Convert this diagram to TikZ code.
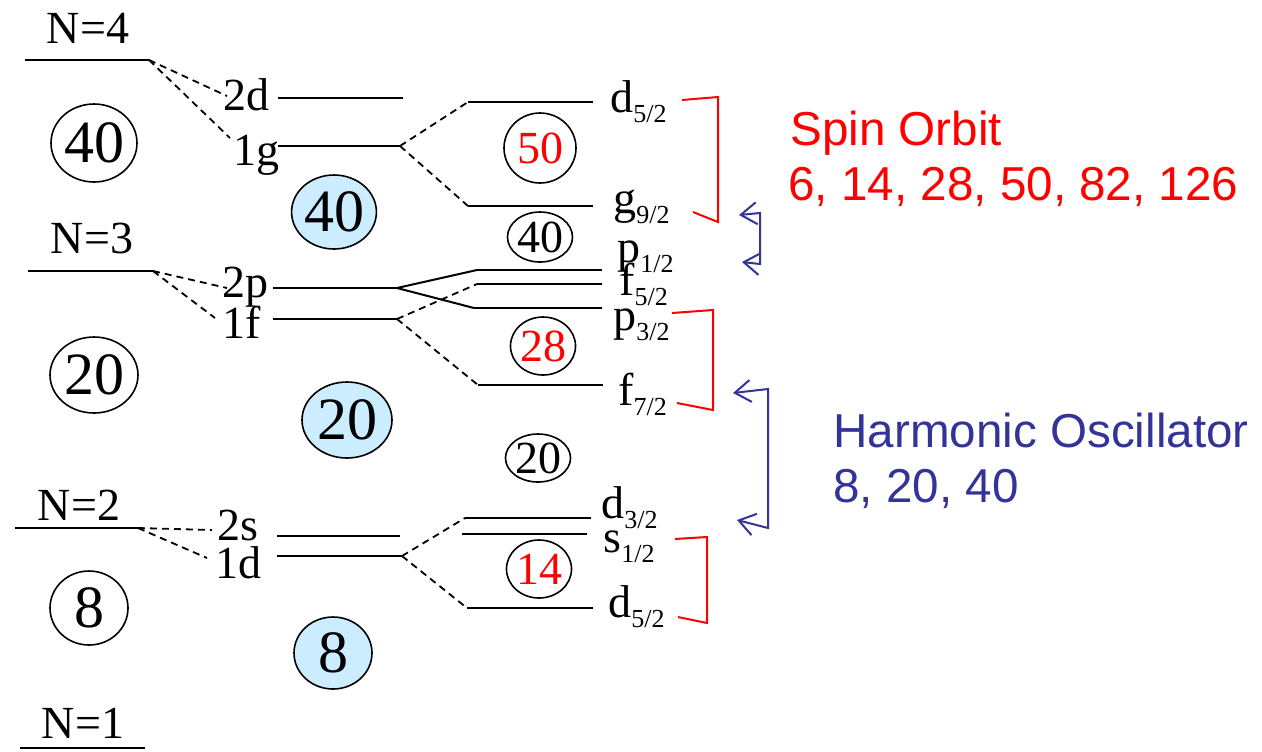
\documentclass[tikz,border=0pt]{standalone}
\usepackage{fontspec}
\setmainfont{Liberation Serif}
\newfontfamily\arialfont{Liberation Sans}
\usetikzlibrary{arrows.meta,shapes.geometric}
\definecolor{hoblue}{HTML}{333399}
\definecolor{shellfill}{HTML}{CCECFF}
\newcommand{\jsub}[1]{\raisebox{-0.22em}{\fontsize{13}{13}\selectfont #1}}

\begin{document}
\begin{tikzpicture}[
    x=0.5pt,y=-0.5pt,
    every node/.style={font=\fontsize{23}{27}\selectfont,inner sep=0pt},
    level/.style={line width=1pt},
    split/.style={line width=0.9pt,dash pattern=on 3.5pt off 2.5pt},
    magic/.style={draw,ellipse,line width=0.8pt},
    bignum/.style={magic,font=\fontsize{30}{34}\selectfont},
    filled/.style={bignum,fill=shellfill},
    lab/.style={anchor=base west},
    shelllab/.style={anchor=base},
    bracket/.style={red,line width=1pt},
    shellarrow/.style={hoblue,line width=1pt,{Straight Barb[length=8pt,width=11pt]}-{Straight Barb[length=8pt,width=11pt]}},
    legend/.style={anchor=base west,font=\arialfont\fontsize{23.8}{28}\selectfont}
]
\useasboundingbox (0,0) rectangle (1262,751);

% oscillator shells
\coordinate (n4l) at (25,60);  \coordinate (n4r) at (149,60);
\coordinate (n3l) at (28,271); \coordinate (n3r) at (153,271);
\coordinate (n2l) at (15,528); \coordinate (n2r) at (138,528);
\coordinate (n1l) at (20,748); \coordinate (n1r) at (145,748);
\node[shelllab] (tn4) at (88,43) {N=4};
\node[shelllab] (tn3) at (92,253) {N=3};
\node[shelllab] (tn2) at (79,520) {N=2};
\node[shelllab] (tn1) at (83,738) {N=1};
\node[bignum,minimum width=43pt,minimum height=39pt] (c40) at (94,143) {40};
\node[bignum,minimum width=44pt,minimum height=38pt] (c20) at (94,375) {20};
\node[bignum,minimum width=39pt,minimum height=37pt] (c8) at (89,608) {8};

% orbitals
\coordinate (o2dl) at (278,98);  \coordinate (o2dr) at (403,98);
\coordinate (o1gl) at (278,146); \coordinate (o1gr) at (400,146);
\coordinate (o2pl) at (273,288); \coordinate (o2pr) at (397,288);
\coordinate (o1fl) at (273,319); \coordinate (o1fr) at (397,319);
\coordinate (o2sl) at (277,536); \coordinate (o2sr) at (400,536);
\coordinate (o1dl) at (277,556); \coordinate (o1dr) at (402,556);
\node[lab] (t2d) at (223,110) {2d};
\node[lab] (t1g) at (233,165) {1g};
\node[lab] (t2p) at (222,297) {2p};
\node[lab] (t1f) at (222,338) {1f};
\node[lab] (t2s) at (217,540) {2s};
\node[lab] (t1d) at (215,578) {1d};
\coordinate (e2d) at (227,96);  \coordinate (e1g) at (230,138);
\coordinate (e2p) at (227,288); \coordinate (e1f) at (215,318);
\coordinate (e2s) at (212,530); \coordinate (e1d) at (207,558);
\node[filled,minimum width=42pt,minimum height=37pt] (b40) at (334,212) {40};
\node[filled,minimum width=45pt,minimum height=38pt] (b20) at (347,420) {20};
\node[filled,minimum width=39pt,minimum height=36pt] (b8) at (333,653) {8};

% spin-orbit levels
\coordinate (d52tl) at (468,102); \coordinate (d52tr) at (593,102);
\coordinate (g92l) at (468,206);  \coordinate (g92r) at (593,206);
\coordinate (p12l) at (477,270);  \coordinate (p12r) at (602,270);
\coordinate (f52l) at (477,284);  \coordinate (f52r) at (602,284);
\coordinate (p32l) at (474,308);  \coordinate (p32r) at (602,308);
\coordinate (f72l) at (478,385);  \coordinate (f72r) at (603,385);
\coordinate (d32l) at (465,518);  \coordinate (d32r) at (591,518);
\coordinate (s12l) at (462,534);  \coordinate (s12r) at (587,534);
\coordinate (d52bl) at (467,608); \coordinate (d52br) at (593,608);
\node[lab] (td52t) at (610,112) {d\jsub{5/2}};
\node[lab] (tg92) at (613,213) {g\jsub{9/2}};
\node[lab] (tp12) at (617,262) {p\jsub{1/2}};
\node[lab] (tf52) at (619,295) {f\jsub{5/2}};
\node[lab] (tp32) at (613,330) {p\jsub{3/2}};
\node[lab] (tf72) at (618,405) {f\jsub{7/2}};
\node[lab] (td32) at (601,518) {d\jsub{3/2}};
\node[lab] (ts12) at (603,552) {s\jsub{1/2}};
\node[lab] (td52b) at (608,617) {d\jsub{5/2}};
\node[magic,minimum width=36pt,minimum height=35pt,text=red] (s50) at (540,148) {50};
\node[magic,minimum width=31pt,minimum height=25pt] (s40) at (540,237) {40};
\node[magic,minimum width=30pt,minimum height=29pt,text=red] (s28) at (543,346) {28};
\node[magic,minimum width=30pt,minimum height=24pt] (s20) at (538,458) {20};
\node[magic,minimum width=29pt,minimum height=29pt,text=red] (s14) at (539,569) {14};

\draw[level] (n4l) -- (n4r);
\draw[level] (n3l) -- (n3r);
\draw[level] (n2l) -- (n2r);
\draw[level] (n1l) -- (n1r);
\draw[level] (o2dl) -- (o2dr);
\draw[level] (o1gl) -- (o1gr);
\draw[level] (o2pl) -- (o2pr);
\draw[level] (o1fl) -- (o1fr);
\draw[level] (o2sl) -- (o2sr);
\draw[level] (o1dl) -- (o1dr);
\draw[level] (d52tl) -- (d52tr);
\draw[level] (g92l) -- (g92r);
\draw[level] (p12l) -- (p12r);
\draw[level] (f52l) -- (f52r);
\draw[level] (p32l) -- (p32r);
\draw[level] (f72l) -- (f72r);
\draw[level] (d32l) -- (d32r);
\draw[level] (s12l) -- (s12r);
\draw[level] (d52bl) -- (d52br);

\draw[split] (n4r) -- (e2d);
\draw[split] (n4r) -- (e1g);
\draw[split] (n3r) -- (e2p);
\draw[split] (n3r) -- (e1f);
\draw[split] (n2r) -- (e2s);
\draw[split] (n2r) -- (e1d);
\draw[split] (o1gr) -- (d52tl);
\draw[split] (o1gr) -- (g92l);
\draw[level] (o2pr) -- (p12l);
\draw[level] (o2pr) -- (p32l);
\draw[split] (o1fr) -- (f52l);
\draw[split] (o1fr) -- (f72l);
\draw[split] (o1dr) -- (d32l);
\draw[split] (o1dr) -- (d52bl);

% brackets and arrows
\coordinate (r1a) at (682,100); \coordinate (r1b) at (718,97);
\coordinate (r1c) at (718,222); \coordinate (r1d) at (693,212);
\coordinate (r2a) at (672,313); \coordinate (r2b) at (713,310);
\coordinate (r2c) at (713,410); \coordinate (r2d) at (677,403);
\coordinate (r3a) at (675,539); \coordinate (r3b) at (707,537);
\coordinate (r3c) at (707,623); \coordinate (r3d) at (678,617);
\draw[bracket] (r1a) -- (r1b) -- (r1c) -- (r1d);
\draw[bracket] (r2a) -- (r2b) -- (r2c) -- (r2d);
\draw[bracket] (r3a) -- (r3b) -- (r3c) -- (r3d);
\coordinate (a1a) at (739,215); \coordinate (a1b) at (760,213);
\coordinate (a1c) at (760,264); \coordinate (a1d) at (742,262);
\coordinate (a2a) at (733,393); \coordinate (a2b) at (768,389);
\coordinate (a2c) at (768,528); \coordinate (a2d) at (737,520);
\draw[shellarrow] (a1a) -- (a1b) -- (a1c) -- (a1d);
\draw[shellarrow] (a2a) -- (a2b) -- (a2c) -- (a2d);

\node[legend,text=red] (so1) at (790,145) {Spin Orbit};
\node[legend,text=red] (so2) at (788,200) {6, 14, 28, 50, 82, 126};
\node[legend,text=hoblue] (ho1) at (833,447) {Harmonic Oscillator};
\node[legend,text=hoblue] (ho2) at (833,502) {8, 20, 40};
\end{tikzpicture}
\end{document}
